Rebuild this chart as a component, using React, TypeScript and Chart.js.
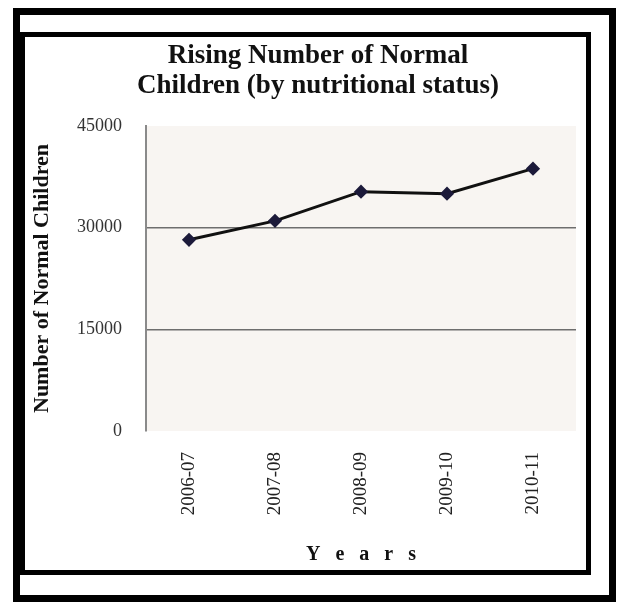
import React, { useEffect, useRef } from "react";
import { Chart, registerables } from "chart.js";

Chart.register(...registerables);

const years = ["2006-07", "2007-08", "2008-09", "2009-10", "2010-11"];
const normalChildren = [28200, 31000, 35300, 35000, 38700];
const yTicks = [0, 15000, 30000, 45000];
const titleLines = ["Rising Number of Normal", "Children (by nutritional status)"];
const yTitle = "Number of Normal Children";
const xTitle = "Y   e   a   r   s";

const SERIF = "'Liberation Serif', 'Times New Roman', serif";

const plotBg = {
  id: "plotBg",
  beforeDraw(chart: any) {
    const { ctx, chartArea } = chart;
    if (!chartArea) return;
    ctx.save();
    ctx.fillStyle = "#f8f5f2";
    ctx.fillRect(chartArea.left, chartArea.top, chartArea.right - chartArea.left, chartArea.bottom - chartArea.top);
    ctx.restore();
  },
};

export default function App() {
  const ref = useRef<HTMLCanvasElement>(null);
  useEffect(() => {
    if (!ref.current) return;
    const chart = new Chart(ref.current, {
      type: "line",
      data: {
        labels: years,
        datasets: [
          {
            data: normalChildren,
            borderColor: "#111111",
            borderWidth: 3,
            pointStyle: "rectRot",
            pointRadius: 5,
            pointBackgroundColor: "#1c1a3a",
            pointBorderColor: "#1c1a3a",
            tension: 0,
            fill: false,
          },
        ],
      },
      options: {
        responsive: false,
        animation: false,
        layout: { padding: { left: 26, right: 10, top: 38, bottom: 30 } },
        plugins: {
          legend: { display: false },
          tooltip: { enabled: false },
          title: {
            display: true,
            text: titleLines,
            color: "#111111",
            font: { family: SERIF, size: 27, weight: "bold", lineHeight: 1.11 },
            padding: { top: 3, bottom: 25 },
          },
        },
        scales: {
          x: {
            type: "category",
            offset: true,
            grid: { display: false, drawTicks: false },
            border: { display: false },
            ticks: {
              minRotation: 90,
              maxRotation: 90,
              autoSkip: false,
              padding: 21,
              color: "#222222",
              font: { family: SERIF, size: 19 },
            },
            title: {
              display: true,
              text: xTitle,
              color: "#111111",
              font: { family: SERIF, size: 20, weight: "bold", lineHeight: 1.2 },
              padding: { top: 0, bottom: 5 },
            },
            afterFit: (s: any) => {
              s.height = 141;
            },
          },
          y: {
            type: "linear",
            position: "left",
            min: 0,
            max: 45000,
            afterBuildTicks: (s: any) => {
              s.ticks = yTicks.map((v) => ({ value: v }));
            },
            grid: {
              drawTicks: false,
              lineWidth: 1.5,
              color: (c: any) =>
                c.tick && c.tick.value > 0 && c.tick.value < 45000 ? "#6e6e6e" : "rgba(0,0,0,0)",
            },
            border: { display: true, color: "#8a8a8a", width: 2 },
            ticks: {
              padding: 24,
              color: "#333333",
              font: { family: SERIF, size: 18 },
              callback: (v: any) => String(v),
            },
            title: {
              display: true,
              text: yTitle,
              color: "#111111",
              font: { family: SERIF, size: 22, weight: "bold", lineHeight: 1.2 },
              padding: { top: 3, bottom: 0 },
            },
            afterFit: (s: any) => {
              s.width = 120;
            },
          },
          yR: {
            type: "linear",
            position: "right",
            display: true,
            grid: { display: false, drawTicks: false },
            border: { display: false },
            ticks: { display: false },
            afterFit: (s: any) => {
              s.width = 34;
            },
          },
        },
      },
      plugins: [plotBg],
    });
    return () => chart.destroy();
  }, []);

  return (
    <div style={{ position: "absolute", left: 0, top: 0, width: 620, height: 602, background: "#ffffff" }}>
      <canvas ref={ref} width={620} height={602} style={{ position: "absolute", left: 0, top: 0 }} />
      <div
        style={{
          position: "absolute",
          left: 13,
          top: 8,
          width: 603,
          height: 594,
          border: "7px solid #000",
          boxSizing: "border-box",
          pointerEvents: "none",
        }}
      />
      <div
        style={{
          position: "absolute",
          left: 20,
          top: 32,
          width: 571,
          height: 543,
          border: "5px solid #000",
          boxSizing: "border-box",
          pointerEvents: "none",
        }}
      />
    </div>
  );
}
